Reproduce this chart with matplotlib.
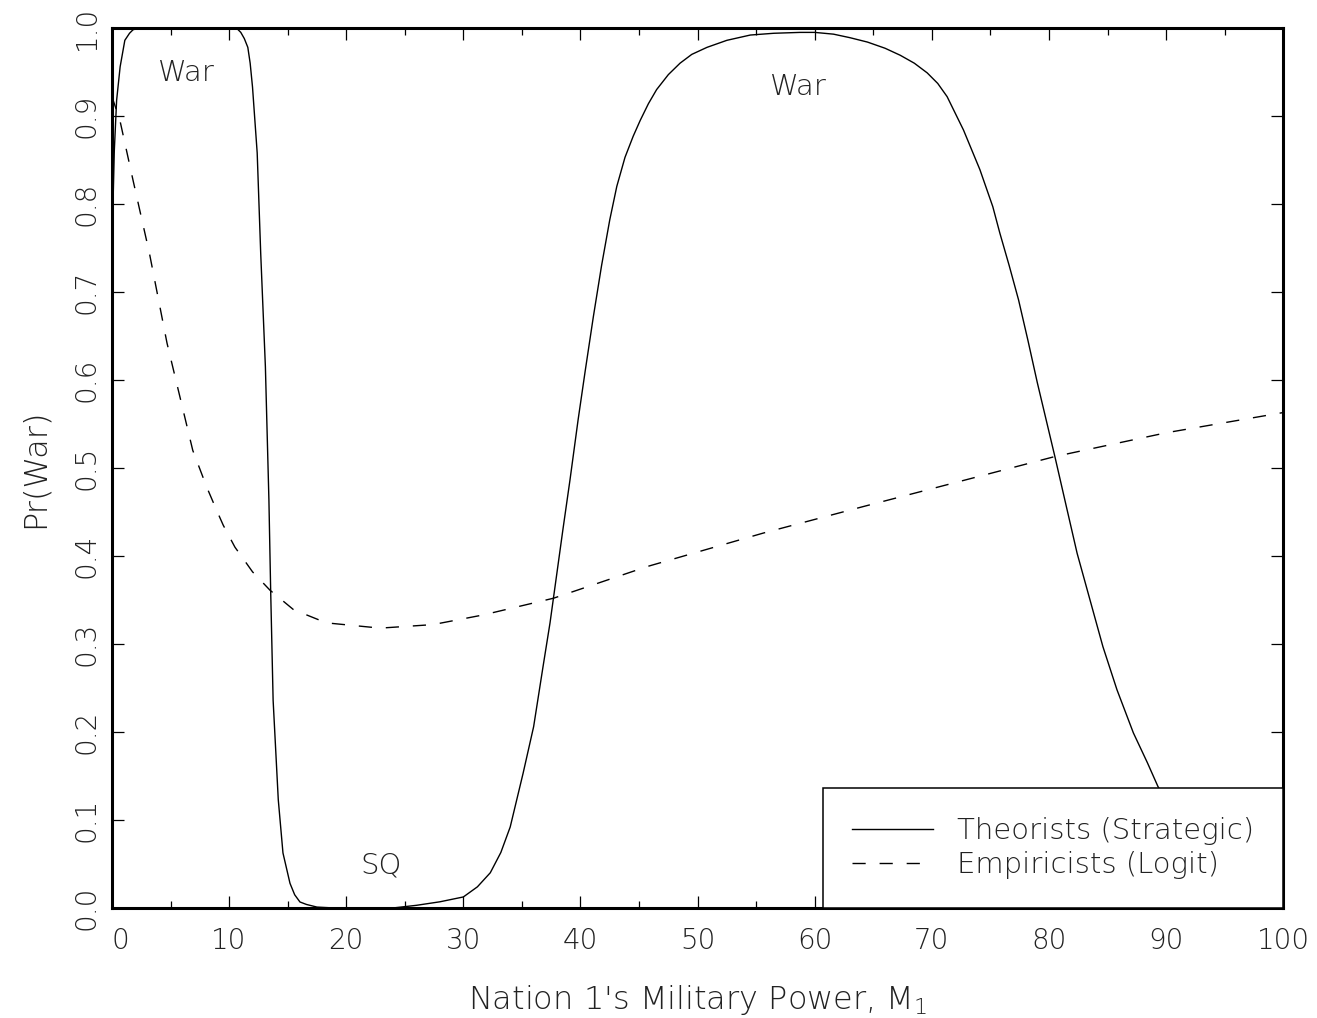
import matplotlib
matplotlib.use('Agg')
import matplotlib.pyplot as plt
import numpy as np

plt.rcParams['font.family'] = ['DejaVu Sans']
plt.rcParams['font.weight'] = 'light'
plt.rcParams['axes.labelweight'] = 'light'
plt.rcParams['mathtext.default'] = 'regular'
plt.rcParams['lines.scale_dashes'] = False

# Curva de los teoricos (modelo estrategico)
x_teo = [0.0, 0.2, 0.4, 0.7, 1.1, 1.5, 1.8, 2.2, 2.8, 10.3, 10.7, 11.0, 11.3,
         11.6, 11.8, 12.0, 12.4, 12.7, 13.1, 13.4, 13.55, 13.76, 14.2, 14.6,
         15.2, 15.6, 16.05, 16.6, 17.5, 18.5, 20.0, 24.0, 26.0, 28.0, 30.0,
         31.2, 32.3, 33.2, 34.0, 35.1, 36.0, 36.8, 37.4, 38.5, 39.1, 39.8,
         40.4, 41.1, 41.8, 42.5, 43.1, 43.8, 44.5, 45.1, 45.8, 46.5, 47.5,
         48.5, 49.5, 50.8, 52.5, 54.5, 56.5, 58.75, 60.0, 61.6, 63.0, 64.5,
         66.0, 67.3, 68.5, 69.6, 70.5, 71.3, 72.7, 74.1, 75.2, 75.8, 76.6,
         77.4, 78.2, 79.0, 80.5, 81.5, 82.4, 83.5, 84.6, 85.8, 87.2, 88.4,
         89.3, 91.0, 94.0, 100.0]
y_teo = [0.75, 0.86, 0.918, 0.956, 0.986, 0.994, 0.998, 0.9995, 1.0, 1.0,
         0.999, 0.995, 0.988, 0.978, 0.96, 0.933, 0.858, 0.744, 0.615, 0.464,
         0.361, 0.236, 0.123, 0.0625, 0.028, 0.015, 0.0068, 0.004, 0.001,
         0.0003, 0.0, 0.0, 0.003, 0.007, 0.0125, 0.024, 0.04, 0.063, 0.092,
         0.153, 0.206, 0.274, 0.324, 0.43, 0.486, 0.555, 0.61, 0.672, 0.73,
         0.782, 0.82, 0.853, 0.877, 0.895, 0.914, 0.93, 0.947, 0.96, 0.97,
         0.978, 0.986, 0.992, 0.994, 0.995, 0.995, 0.993, 0.989, 0.984, 0.977,
         0.969, 0.96, 0.949, 0.937, 0.922, 0.884, 0.839, 0.797, 0.767, 0.73,
         0.691, 0.645, 0.597, 0.513, 0.455, 0.403, 0.35, 0.297, 0.248, 0.199,
         0.165, 0.138, 0.1, 0.06, 0.02]

# Curva de los empiricos (logit)
x_emp = [0.0, 0.68, 1.8, 3.2, 4.7, 5.8, 6.9, 8.1, 9.0, 9.5, 10.5, 11.2, 12.0,
         13.5, 15.5, 18.3, 22.9, 27.4, 31.7, 37.7, 45.7, 55.6, 64.1, 73.9,
         80.5, 90.0, 100.0]
y_emp = [0.922, 0.895, 0.827, 0.744, 0.642, 0.581, 0.52, 0.478, 0.45, 0.435,
         0.41, 0.397, 0.382, 0.361, 0.339, 0.324, 0.318, 0.322, 0.333, 0.352,
         0.388, 0.426, 0.456, 0.49, 0.513, 0.54, 0.563]

etiquetas = ['Theorists (Strategic)', 'Empiricists (Logit)']
textos = [('War', 6.4, 0.949), ('War', 58.6, 0.933), ('SQ', 23.0, 0.048)]

fig = plt.figure(figsize=(13.17, 10.18), dpi=100)
ax = fig.add_axes([0.085, 0.1081, 0.8894, 0.8644])

ax.plot(x_teo, y_teo, color='black', lw=1.0, label=etiquetas[0])
ax.plot(x_emp, y_emp, color='black', lw=1.0, dashes=[9.5, 10], label=etiquetas[1])

for t, xx, yy in textos:
    ax.text(xx, yy, t, fontsize=21, ha='center', va='center', color='#222222')

ax.set_xlim(0, 100)
ax.set_ylim(0, 1)
ax.set_xticks(np.arange(0, 101, 10))
ax.set_xticks(np.arange(5, 100, 10), minor=True)
ax.set_yticks(np.arange(0, 1.01, 0.1))
ax.set_yticklabels([f'{v:.1f}' for v in np.arange(0, 1.01, 0.1)],
                   rotation=90, va='center')
for s in ax.spines.values():
    s.set_linewidth(2.2)

ax.tick_params(which='both', direction='in', top=True, right=True,
               width=0.9, colors='black', labelcolor='#222222', labelsize=20)
ax.tick_params(which='major', length=8.6)
ax.tick_params(which='minor', length=5)
ax.tick_params(axis='x', pad=14)
ax.tick_params(axis='y', pad=8)
lbl = ax.get_xticklabels()
lbl[0].set_ha('left')

ax.set_xlabel("Nation 1's Military Power, M$_1$", fontsize=23, color='#222222')
ax.xaxis.set_label_coords(0.5, -0.085)
ax.set_ylabel('Pr(War)', fontsize=23, color='#222222')
ax.yaxis.set_label_coords(-0.053, 0.5)

leg = ax.legend(loc='lower right', borderaxespad=0, fancybox=False,
                edgecolor='black', framealpha=1, fontsize=21,
                handlelength=2.77, handletextpad=0.82, borderpad=1.0,
                labelspacing=0.2)
leg.get_frame().set_linewidth(1.1)
for t in leg.get_texts():
    t.set_color('#222222')

fig.savefig('out.png', dpi=100)
